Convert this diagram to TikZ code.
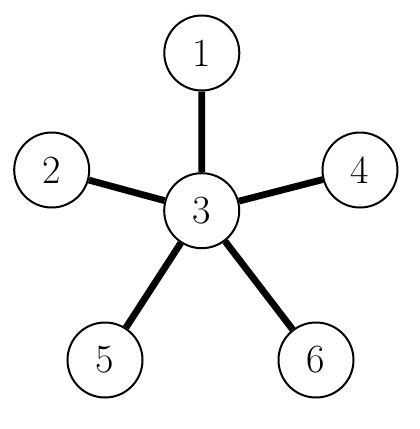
\documentclass[tikz,border=0pt]{standalone}
\begin{document}
\begin{tikzpicture}[x=1pt,y=-1pt,
  vert/.style={circle,draw,line width=2pt,minimum size=75pt,inner sep=0pt,font=\fontsize{40}{46}\selectfont},
  edge/.style={line width=6.8pt}]
\useasboundingbox (0,0) rectangle (420,429);
\node[vert] (n1) at (201.8,53) {1};
\node[vert] (n2) at (51.7,170) {2};
\node[vert] (n3) at (201.7,210.7) {3};
\node[vert] (n4) at (360,170) {4};
\node[vert] (n5) at (105,360) {5};
\node[vert] (n6) at (316,360) {6};
\draw[edge] (n1) -- (n3);
\draw[edge] (n2) -- (n3);
\draw[edge] (n4) -- (n3);
\draw[edge] (n5) -- (n3);
\draw[edge] (n6) -- (n3);
\end{tikzpicture}
\end{document}
